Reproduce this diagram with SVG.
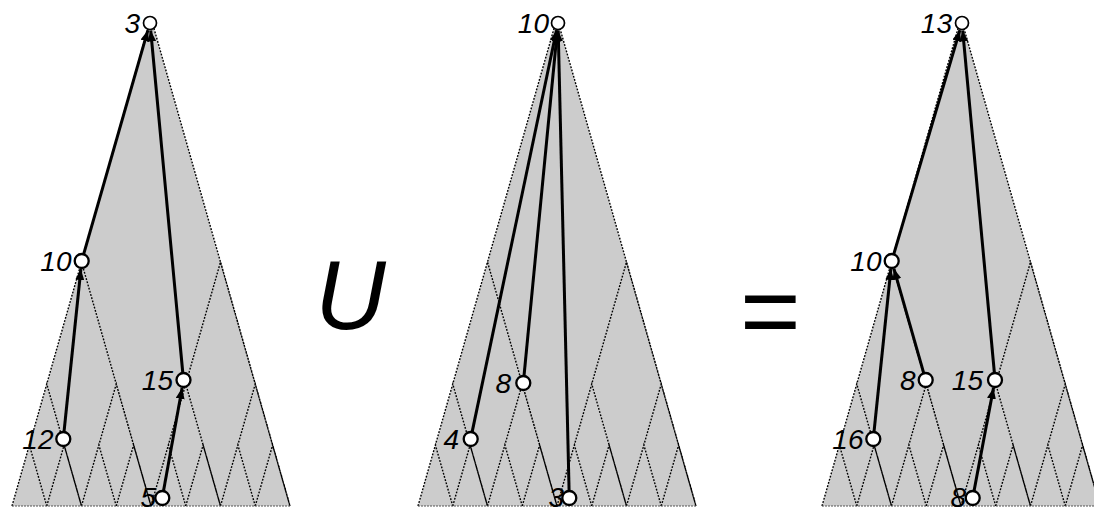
<svg xmlns="http://www.w3.org/2000/svg" xmlns:xlink="http://www.w3.org/1999/xlink" width="1094" height="507" viewBox="0 0 1094 507">
<style>
.fill{fill:#cccccc;stroke:none}
.dot{fill:none;stroke:#000;stroke-width:1.4;stroke-dasharray:1.8 1.5}
.base{fill:none;stroke:#555;stroke-width:1;stroke-dasharray:2 1}
.edge{fill:none;stroke:#000;stroke-width:3;marker-end:url(#ah)}
.node circle{fill:#fff;stroke:#000;stroke-width:2.3}
.root circle{stroke-width:1.7}
.lbl{font-family:"Liberation Sans",Arial,sans-serif;font-style:italic;font-size:28px;text-anchor:end;fill:#000}
.op{font-family:"Liberation Sans",Arial,sans-serif;fill:#000}
</style>
<defs>
<marker id="ah" viewBox="0 0 11 9" markerUnits="userSpaceOnUse" markerWidth="11" markerHeight="9" refX="11" refY="4.5" orient="auto">
<path d="M0,0 L11,4.5 L0,9 z" fill="#000"/>
</marker>
<g id="tri">
<path class="fill" d="M12,506 L151,18 L290,506 z"/>
<path class="dot" d="M12,506 L151,18 L290,506
M12,506 L81.5,262 L151,506 M151,506 L220.5,262 L290,506
M12,506 L46.75,384 L81.5,506 M81.5,506 L116.25,384 L151,506 M151,506 L185.75,384 L220.5,506 M220.5,506 L255.25,384 L290,506
M12,506 L29.375,445 L46.75,506 M46.75,506 L64.125,445 L81.5,506 M81.5,506 L98.875,445 L116.25,506 M116.25,506 L133.625,445 L151,506
M151,506 L168.375,445 L185.75,506 M185.75,506 L203.125,445 L220.5,506 M220.5,506 L237.875,445 L255.25,506 M255.25,506 L272.625,445 L290,506"/>
<path class="base" d="M12,506 L290,506"/>
</g>
</defs>
<g id="trees">
<use xlink:href="#tri" href="#tri" x="0" y="0"/>
<use xlink:href="#tri" href="#tri" x="406" y="0"/>
<use xlink:href="#tri" href="#tri" x="810" y="0"/>
</g>
<g id="connectors">
<line class="edge" x1="83.6" y1="254.3" x2="147.9" y2="30.2"/>
<line class="edge" x1="182.8" y1="373" x2="150.7" y2="30.5"/>
<line class="edge" x1="64" y1="432" x2="80.9" y2="269"/>
<line class="edge" x1="163.5" y1="491.1" x2="182.1" y2="387.9"/>
<line class="edge" x1="472.1" y1="432.1" x2="556.5" y2="30.3"/>
<line class="edge" x1="524" y1="376" x2="557.3" y2="30.5"/>
<line class="edge" x1="569.1" y1="491" x2="558.2" y2="30.5"/>
<line class="edge" x1="893.7" y1="254.3" x2="959.9" y2="30.2"/>
<line class="edge" x1="994.4" y1="373" x2="962.7" y2="30.5"/>
<line class="edge" x1="874" y1="432" x2="890.9" y2="269"/>
<line class="edge" x1="923.8" y1="373.3" x2="893.9" y2="268.7"/>
<line class="edge" x1="974" y1="491.1" x2="993.5" y2="387.9"/>
</g>
<g id="L-3" class="node root"><text class="lbl" x="140" y="33">3</text><circle cx="150" cy="23" r="6.5"/></g>
<g id="L-10" class="node"><text class="lbl" x="71.5" y="271">10</text><circle cx="81.7" cy="261" r="7"/></g>
<g id="L-15" class="node"><text class="lbl" x="173" y="390">15</text><circle cx="183.5" cy="380" r="7"/></g>
<g id="L-12" class="node"><text class="lbl" x="53.5" y="449">12</text><circle cx="63.3" cy="439" r="7"/></g>
<g id="L-5" class="node"><text class="lbl" x="156" y="507">5</text><circle cx="162.3" cy="498" r="7"/></g>
<g id="M-10" class="node root"><text class="lbl" x="549" y="33">10</text><circle cx="558" cy="23" r="6.5"/></g>
<g id="M-8" class="node"><text class="lbl" x="511" y="393">8</text><circle cx="523.3" cy="383" r="7"/></g>
<g id="M-4" class="node"><text class="lbl" x="459" y="449">4</text><circle cx="470.7" cy="439" r="7"/></g>
<g id="M-3" class="node"><text class="lbl" x="564" y="507">3</text><circle cx="569.3" cy="498" r="7"/></g>
<g id="R-13" class="node root"><text class="lbl" x="952" y="33">13</text><circle cx="962" cy="23" r="6.5"/></g>
<g id="R-10" class="node"><text class="lbl" x="881.5" y="271">10</text><circle cx="891.7" cy="261" r="7"/></g>
<g id="R-8a" class="node"><text class="lbl" x="915.5" y="390">8</text><circle cx="925.7" cy="380" r="7"/></g>
<g id="R-15" class="node"><text class="lbl" x="983" y="390">15</text><circle cx="995" cy="380" r="7"/></g>
<g id="R-16" class="node"><text class="lbl" x="863.5" y="449">16</text><circle cx="873.3" cy="439" r="7"/></g>
<g id="R-8b" class="node"><text class="lbl" x="966" y="507">8</text><circle cx="972.7" cy="498" r="7"/></g>
<g id="ops">
<text class="op" x="315" y="329" font-size="98" font-style="italic">U</text>
<text class="op" x="740" y="346" font-size="104">=</text>
</g>
</svg>
